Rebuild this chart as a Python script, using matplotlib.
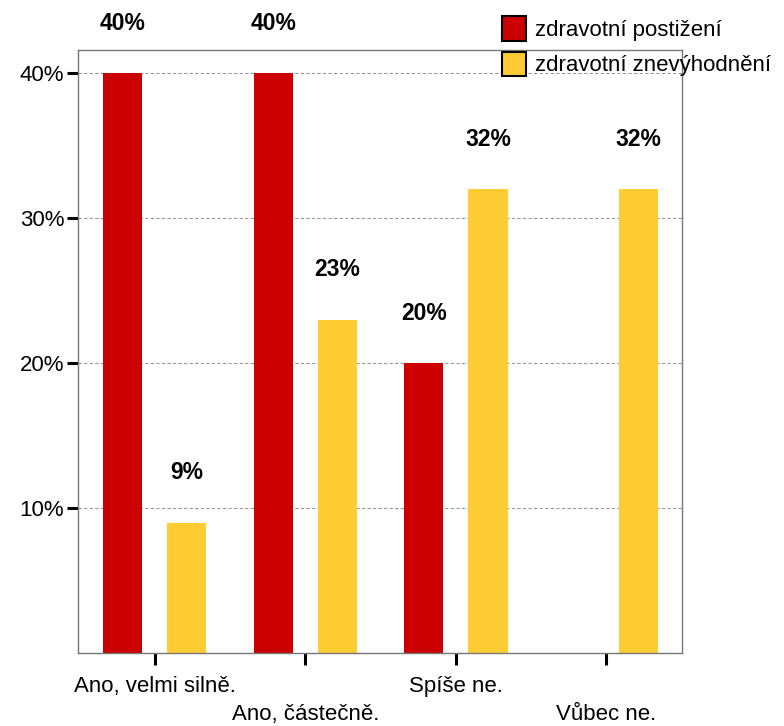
import matplotlib
matplotlib.use("Agg")
import matplotlib.pyplot as plt
import matplotlib.patches as mpatches
import numpy as np

plt.rcParams["font.family"] = ["Liberation Sans", "DejaVu Sans"]

# data
categories = ["Ano, velmi silně.", "Ano, částečně.", "Spíše ne.", "Vůbec ne."]
postizeni = [0.40, 0.40, 0.20, None]
znevyhodneni = [0.09, 0.23, 0.32, 0.32]
series_names = ["zdravotní postižení", "zdravotní znevýhodnění"]
y_ticks = [0.10, 0.20, 0.30, 0.40]
y_labels = ["10%", "20%", "30%", "40%"]

RED = "#CC0000"
YELLOW = "#FFCC33"

fig = plt.figure(figsize=(7.84, 7.26), dpi=100)
ax = fig.add_axes([0.0995, 0.1006, 0.7700, 0.8305])

x = np.arange(len(categories))
offset = 0.213
width = 0.26


def draw_series(values, dx, color):
    for xi, v in zip(x, values):
        if v is None:
            continue
        ax.bar(xi + dx, v, width, color=color, linewidth=0, zorder=2)
        ax.text(xi + dx, v + 0.0345, f"{round(v * 100):d}%", ha="center", va="center",
                fontsize=16.5, fontweight="bold", clip_on=False)


draw_series(postizeni, -offset, RED)
draw_series(znevyhodneni, offset, YELLOW)

ax.set_xlim(-0.51, 3.50)
ax.set_ylim(0, 0.416)

ax.set_yticks(y_ticks)
ax.set_yticklabels(y_labels, fontsize=16)
ax.set_xticks(x)
ax.set_xticklabels(categories, fontsize=16)
ax.tick_params(axis="y", length=8, width=2.2, color="black", pad=2)
ax.tick_params(axis="x", length=8.5, width=2.2, color="black", pad=8)
for t in ax.xaxis.get_major_ticks()[1::2]:
    t.set_pad(28.5)

ax.grid(axis="y", color="#999999", linestyle=(0, (3, 2)), linewidth=0.8, zorder=0)
ax.set_axisbelow(True)
for s in ax.spines.values():
    s.set_color("#777777")
    s.set_linewidth(1.0)

# legenda
patches = [mpatches.Patch(facecolor=RED, edgecolor="black", linewidth=1.5, label=series_names[0]),
           mpatches.Patch(facecolor=YELLOW, edgecolor="black", linewidth=1.5, label=series_names[1])]
fig.legend(handles=patches, loc="upper left", bbox_to_anchor=(502 / 784, 1 - 16 / 726),
           frameon=False, fontsize=16, handlelength=1.08, handleheight=1.32,
           handletextpad=0.4, labelspacing=0.5, borderpad=0, borderaxespad=0)

fig.savefig("out.png", dpi=100)
